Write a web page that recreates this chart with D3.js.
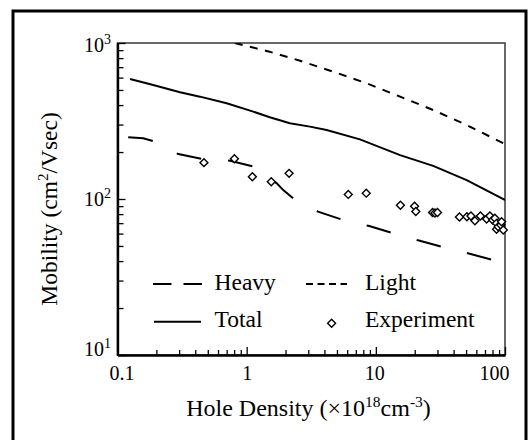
<!DOCTYPE html>
<html>
<head>
<meta charset="utf-8">
<script src="https://cdn.jsdelivr.net/npm/d3@7"></script>
<style>
  html, body { margin: 0; padding: 0; background: #fff; }
  svg { display: block; }
</style>
</head>
<body>
<svg id="chart" width="528" height="440" font-family="'Liberation Serif', 'Times New Roman', Times, serif"></svg>
<script>
// ---------------- data ----------------
const heavyX = [0.121, 0.158, 0.189, 0.296, 0.461, 0.743, 1.14, 1.71, 1.92, 2.34, 3.57, 5.6, 8.89, 13.6, 21.9, 33.8, 54.2, 84.5, 100];
const heavyY = [249, 245, 235, 194, 180, 176, 161, 126, 114, 99.5, 83, 73.3, 67.1, 60.3, 54, 49, 44.4, 40.2, 38.7];

const lightX = [0.81, 1.5, 2.585, 4.68, 8.49, 15.4, 27.8, 50.5, 96.8, 100];
const lightY = [1000, 880, 770, 655, 552, 453, 372, 298, 228, 224];

const totalX = [0.125, 0.189, 0.305, 0.435, 0.70, 1.125, 1.51, 2.16, 3.09, 4.16, 7.53, 15.4, 27.8, 50.5, 98, 100];
const totalY = [588, 538, 483, 453, 411, 363, 334, 306, 291, 277, 241, 191, 163, 132, 99.5, 98.5];

const expX = [0.467, 0.804, 1.107, 1.55, 2.13, 6.12, 8.43, 15.5, 19.95, 20.4, 27.5, 28.7, 30.0, 44.4, 50.7, 54.5, 58.5, 64.5, 72, 76.4, 80.3, 83.5, 86, 86, 88.6, 92.9, 94.1, 97];
const expY = [171, 181, 139, 129, 146, 107, 109, 91.2, 89.9, 83.2, 81.9, 81.3, 81.9, 76.7, 77, 77.8, 72.6, 77.8, 74.5, 77.8, 73.3, 75.2, 69.8, 63.9, 66.4, 68.1, 71.5, 63.3];

const xTickValues = [0.1, 1, 10, 100];
const xTickLabels = ["0.1", "1", "10", "100"];
const yTickValues = [10, 100, 1000];
const yTickExponents = ["1", "2", "3"];

const legendLabels = ["Heavy", "Light", "Total", "Experiment"];

// ---------------- layout ----------------
const FONT = "'Liberation Serif', 'Times New Roman', Times, serif";
const svg = d3.select("#chart");
const L = 117.5, R = 505, T = 43, B = 355;

const x = d3.scaleLog().domain([0.1, 100]).range([L, R]);
const y = d3.scaleLog().domain([10, 1000]).range([B, T]);

// outer frame
svg.append("rect")
  .attr("x", 13).attr("y", 11).attr("width", 513).attr("height", 440)
  .attr("fill", "none").attr("stroke", "#000").attr("stroke-width", 3);

// clip
svg.append("clipPath").attr("id", "plotclip")
  .append("rect").attr("x", L).attr("y", T).attr("width", R - L).attr("height", B - T);

// plot frame (top/right)
svg.append("rect")
  .attr("x", L).attr("y", T).attr("width", R - L).attr("height", B - T)
  .attr("fill", "none").attr("stroke", "#444").attr("stroke-width", 1.6);

// minor tick values
const xMinor = [];
[0.1, 1, 10].forEach(d => { for (let k = 2; k <= 9; k++) xMinor.push(d * k); });
const yMinor = [];
[10, 100].forEach(d => { for (let k = 2; k <= 9; k++) yMinor.push(d * k); });

// axes via d3 axis (inward ticks)
const gx = svg.append("g").attr("transform", `translate(0,${B})`);
gx.call(d3.axisBottom(x).tickValues(xMinor).tickSizeInner(-5).tickSizeOuter(0).tickFormat(""));
const gx2 = svg.append("g").attr("transform", `translate(0,${B})`);
gx2.call(d3.axisBottom(x).tickValues(xTickValues).tickSizeInner(-8).tickSizeOuter(0).tickFormat(""));
const gy = svg.append("g").attr("transform", `translate(${L},0)`);
gy.call(d3.axisLeft(y).tickValues(yMinor).tickSizeInner(-6).tickSizeOuter(0).tickFormat(""));
const gy2 = svg.append("g").attr("transform", `translate(${L},0)`);
gy2.call(d3.axisLeft(y).tickValues(yTickValues).tickSizeInner(-8).tickSizeOuter(0).tickFormat(""));
[gx, gx2, gy, gy2].forEach(g => {
  g.selectAll(".tick line").attr("stroke", "#000").attr("stroke-width", 1.3);
  g.select(".domain").attr("stroke", "#000").attr("stroke-width", 2.2);
});

// x tick labels
const xLabelDx = [4.5, 0.5, -1, -10.5];
svg.append("g").selectAll("text").data(xTickValues).join("text")
  .attr("x", (d, i) => x(d) + xLabelDx[i])
  .attr("y", 380)
  .attr("text-anchor", "middle")
  .attr("font-family", FONT)
  .attr("font-size", 20)
  .text((d, i) => xTickLabels[i]);

// y tick labels
const yLabelBase = [356, 206, 52];
const yl = svg.append("g").selectAll("text").data(yTickValues).join("text")
  .attr("x", 111)
  .attr("y", (d, i) => yLabelBase[i])
  .attr("text-anchor", "end")
  .attr("font-family", FONT)
  .attr("font-size", 20);
yl.append("tspan").text("10");
yl.append("tspan").attr("dy", -8).attr("font-size", 14).text((d, i) => yTickExponents[i]);

// axis titles
const xt = svg.append("text").attr("x", 308.5).attr("y", 416).attr("text-anchor", "middle")
  .attr("font-family", FONT).attr("font-size", 24);
xt.append("tspan").text("Hole Density (\u00d710");
xt.append("tspan").attr("dy", -9).attr("font-size", 15.5).text("18");
xt.append("tspan").attr("dy", 9).text("cm");
xt.append("tspan").attr("dy", -9).attr("font-size", 15.5).text("-3");
xt.append("tspan").attr("dy", 9).text(")");

const yt = svg.append("text").attr("transform", "translate(57,209) rotate(-90)").attr("text-anchor", "middle")
  .attr("font-family", FONT).attr("font-size", 23.5);
yt.append("tspan").text("Mobility (cm");
yt.append("tspan").attr("dy", -9).attr("font-size", 15).text("2");
yt.append("tspan").attr("dy", 9).text("/Vsec)");

// lines
const line = d3.line().x(d => x(d[0])).y(d => y(d[1]));
const plot = svg.append("g").attr("clip-path", "url(#plotclip)");

plot.append("path").datum(d3.zip(totalX, totalY))
  .attr("d", line).attr("fill", "none").attr("stroke", "#000").attr("stroke-width", 2);
plot.append("path").datum(d3.zip(lightX, lightY))
  .attr("d", line).attr("fill", "none").attr("stroke", "#000").attr("stroke-width", 2)
  .attr("stroke-dasharray", "8,7.5");
plot.append("path").datum(d3.zip(heavyX, heavyY))
  .attr("d", line).attr("fill", "none").attr("stroke", "#000").attr("stroke-width", 2)
  .attr("stroke-dasharray", "25,27");

// experiment diamonds
const diamond = d3.symbol().type(d3.symbolDiamond2).size(40);
svg.append("g").selectAll("path").data(d3.zip(expX, expY)).join("path")
  .attr("transform", d => `translate(${x(d[0])},${y(d[1])})`)
  .attr("d", diamond)
  .attr("fill", "#fff").attr("stroke", "#000").attr("stroke-width", 1.4);

// legend
const lg = svg.append("g");
lg.append("line").attr("x1", 153).attr("x2", 202).attr("y1", 284).attr("y2", 284)
  .attr("stroke", "#000").attr("stroke-width", 2).attr("stroke-dasharray", "18.5,12");
lg.append("line").attr("x1", 306).attr("x2", 347).attr("y1", 284).attr("y2", 284)
  .attr("stroke", "#000").attr("stroke-width", 2).attr("stroke-dasharray", "7,4.5");
lg.append("line").attr("x1", 154).attr("x2", 201).attr("y1", 321.7).attr("y2", 321.7)
  .attr("stroke", "#000").attr("stroke-width", 2);
lg.append("path").attr("transform", "translate(331.6,323.3)").attr("d", diamond)
  .attr("fill", "#fff").attr("stroke", "#000").attr("stroke-width", 1.4);
const legendPos = [[214.5, 290], [365, 290], [214.5, 327], [365, 327]];
lg.selectAll("text").data(legendLabels).join("text")
  .attr("x", (d, i) => legendPos[i][0]).attr("y", (d, i) => legendPos[i][1])
  .attr("font-family", FONT)
  .attr("font-size", 23.5).text(d => d);
</script>
</body>
</html>
